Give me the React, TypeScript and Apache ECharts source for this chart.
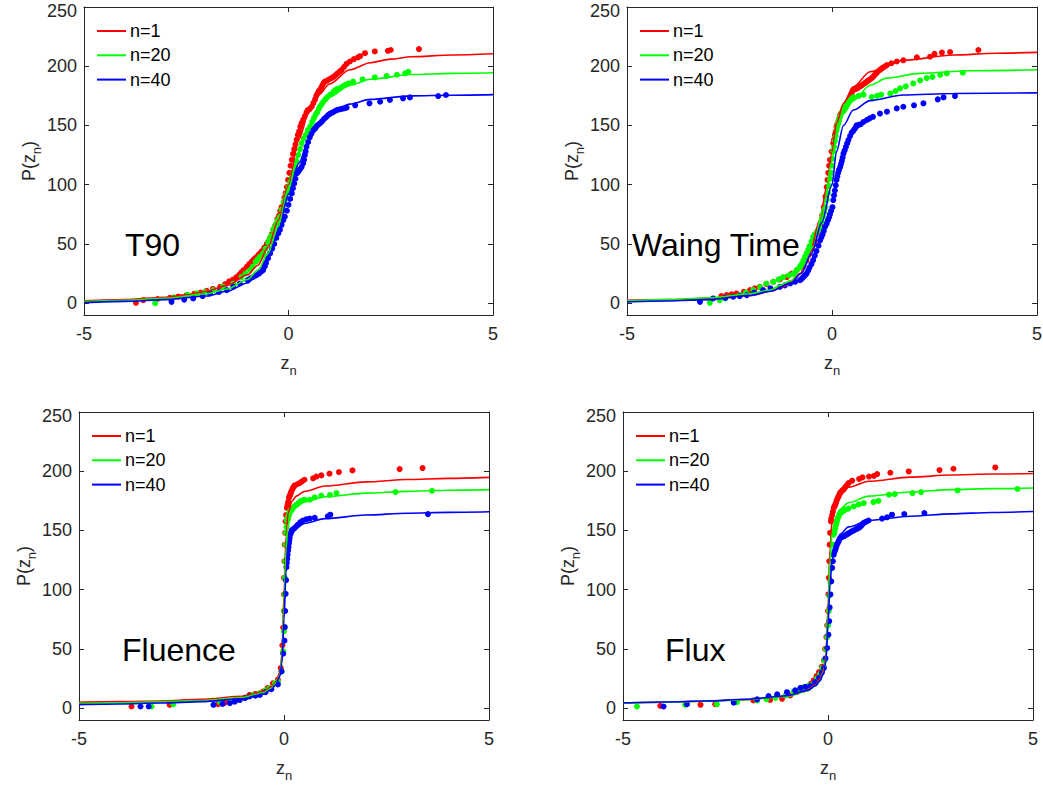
import React, { useEffect, useRef } from "react";
import * as echarts from "echarts";

const FONT = "'Liberation Sans', Arial, Helvetica, sans-serif";
const AXIS_COLOR = "#262626";

const xTicks = [-5, 0, 5];
const yTicks = [0, 50, 100, 150, 200, 250];
const seriesNames = ["n=1", "n=20", "n=40"];
const seriesColors = ["#ff0000", "#00ff00", "#0000ff"];
const panelTitles = ["T90", "Waing Time", "Fluence", "Flux"];

// ---------- T90 ----------
const t90Fit1 = [[-5, 2], [-4, 3], [-3, 5], [-2.5, 7], [-2, 10], [-1.5, 15], [-1, 24], [-0.75, 32], [-0.5, 47], [-0.25, 70], [0, 100], [0.25, 138], [0.5, 161], [0.75, 176], [1, 185], [1.5, 197], [2, 203], [2.5, 206], [3, 208], [4, 209.5], [5, 210.5]];
const t90Fit20 = [[-5, 1.5], [-4, 2.5], [-3, 4], [-2, 8], [-1.5, 12], [-1, 20], [-0.75, 28], [-0.5, 42], [-0.25, 65], [0, 97], [0.25, 127], [0.5, 150], [0.75, 165], [1, 174], [1.5, 184], [2, 189], [3, 193], [4, 194], [5, 194.5]];
const t90Fit40 = [[-5, 0.5], [-4, 1.5], [-3, 3], [-2, 6], [-1.5, 10], [-1, 17], [-0.75, 25], [-0.5, 38], [-0.25, 60], [0, 92], [0.25, 118], [0.5, 138], [0.75, 152], [1, 160], [1.5, 168], [2, 172], [3, 175], [4, 175.5], [5, 176]];
const t90Pts1 = [[-3.73, 0.3], [-3.55, 2.5], [-3.2, 3.5], [-2.9, 4.5], [-2.7, 5.5], [-2.49, 6.8], [-2.3, 8], [-2.15, 9], [-2.0, 10.4], [-1.85, 12], [-1.67, 13.8], [-1.55, 16], [-1.45, 18.5], [-1.35, 20], [-1.27, 22], [-1.2, 24], [-1.15, 26], [-1.1, 28], [-1.02, 30.7], [-0.96, 33], [-0.9, 35], [-0.85, 37], [-0.8, 38.5], [-0.74, 40.5], [-0.7, 42], [-0.65, 44], [-0.59, 47], [-0.53, 50], [-0.49, 52], [-0.45, 55], [-0.41, 58], [-0.37, 62], [-0.33, 65], [-0.3, 67], [-0.27, 71], [-0.23, 74], [-0.2, 78], [-0.17, 81], [-0.1, 89], [-0.07, 93], [-0.04, 98], [-0.01, 104], [0.02, 110], [0.05, 116], [0.08, 121], [0.11, 126], [0.14, 130], [0.17, 134], [0.2, 138], [0.23, 142], [0.26, 145], [0.29, 149], [0.32, 152], [0.36, 155], [0.4, 158], [0.44, 161], [0.47, 163], [0.52, 164], [0.57, 166], [0.61, 169], [0.65, 172], [0.68, 175], [0.71, 177], [0.74, 179], [0.77, 180], [0.8, 182], [0.83, 184], [0.86, 186], [0.89, 187], [0.95, 188], [1.0, 189], [1.05, 190], [1.1, 191], [1.15, 192.5], [1.2, 194], [1.25, 195.5], [1.3, 197], [1.36, 199.5], [1.42, 202], [1.5, 204], [1.6, 206], [1.7, 207.5], [1.75, 208.5], [1.87, 211], [2.11, 212.5], [2.43, 213], [2.5, 213.7], [3.19, 214.5]];
const t90Pts20 = [[-3.26, 0], [-2.8, 5], [-2.47, 7], [-2.24, 8.2], [-2.05, 9.5], [-1.84, 11], [-1.6, 14], [-1.35, 16.6], [-1.15, 22], [-1.05, 25], [-0.94, 28], [-0.87, 31], [-0.8, 35], [-0.75, 37], [-0.7, 39], [-0.66, 40], [-0.62, 42], [-0.56, 46], [-0.5, 51], [-0.46, 54], [-0.42, 57], [-0.37, 62], [-0.34, 64], [-0.3, 67], [-0.26, 70], [-0.21, 73], [-0.17, 79], [-0.12, 85], [-0.08, 88], [-0.05, 92], [-0.02, 95], [0, 98], [0.04, 102], [0.08, 106], [0.12, 110], [0.16, 115], [0.2, 120], [0.24, 125], [0.28, 130], [0.32, 135], [0.37, 139], [0.42, 142], [0.47, 146], [0.53, 149], [0.58, 153], [0.62, 156], [0.66, 159], [0.7, 161], [0.74, 164], [0.77, 166], [0.81, 168], [0.85, 170], [0.9, 172], [0.95, 174], [1.02, 176], [1.1, 178.5], [1.15, 180], [1.2, 181], [1.28, 182], [1.35, 183.5], [1.41, 184.5], [1.47, 185.5], [1.58, 187], [1.81, 189], [2.11, 190.6], [2.4, 191.7], [2.65, 192.8], [2.85, 194], [2.93, 195.3]];
const t90Pts40 = [[-2.86, 1.1], [-2.55, 3], [-2.33, 4], [-2.1, 6], [-1.92, 8.2], [-1.7, 9.5], [-1.51, 11], [-1.35, 14], [-1.19, 16.6], [-1.0, 19.5], [-0.93, 21], [-0.86, 22.2], [-0.79, 23.5], [-0.72, 25], [-0.67, 26.5], [-0.62, 27.9], [-0.58, 31], [-0.55, 34], [-0.5, 38], [-0.45, 42], [-0.4, 46], [-0.35, 50], [-0.3, 55], [-0.25, 58.9], [-0.21, 62], [-0.17, 66], [-0.13, 70], [-0.09, 73], [-0.04, 78], [0, 83], [0.04, 88], [0.08, 92.6], [0.11, 97], [0.14, 101], [0.17, 105], [0.2, 109.5], [0.24, 111], [0.28, 113], [0.32, 115], [0.36, 118], [0.38, 121], [0.4, 125], [0.42, 128], [0.44, 132], [0.48, 136], [0.52, 140], [0.56, 143], [0.61, 146], [0.65, 147.5], [0.68, 149], [0.72, 150.5], [0.77, 151.8], [0.82, 153.5], [0.87, 155.5], [0.92, 157], [0.97, 158.8], [1.02, 160], [1.08, 161], [1.13, 162], [1.18, 163], [1.24, 163.5], [1.3, 164], [1.36, 164.5], [1.42, 165], [1.63, 167], [1.98, 168.7], [2.24, 170], [2.48, 171.5], [2.8, 172.9], [2.97, 173.7], [3.66, 174.8], [3.85, 175.7]];

// ---------- Waiting time ----------
const wtFit1 = [[-5, 2.5], [-4, 3], [-3, 4], [-2, 6.5], [-1.5, 10], [-1.2, 13.8], [-1, 18], [-0.78, 25], [-0.54, 42], [-0.3, 70], [-0.13, 98], [0, 128], [0.11, 152], [0.28, 168.7], [0.52, 182.7], [0.93, 195.4], [1.74, 205], [2.96, 209.5], [4, 211], [5, 211.7]];
const wtFit20 = [[-5, 2], [-4, 3], [-3, 4.5], [-2, 8], [-1.5, 11], [-1.27, 15], [-1, 19], [-0.78, 28], [-0.46, 47.5], [-0.21, 81], [0, 120], [0.11, 143], [0.28, 160], [0.52, 171], [0.93, 184], [1.34, 190], [2.15, 194], [3.37, 196.2], [5, 197]];
const wtFit40 = [[-5, 1.1], [-4, 1.8], [-3, 3], [-2, 6.5], [-1.5, 10], [-1, 17], [-0.75, 25], [-0.5, 42], [-0.25, 68], [0, 100], [0.11, 128], [0.28, 150], [0.52, 163], [0.93, 171], [1.74, 175.7], [2.96, 177], [5, 177.5]];
const wtPts1 = [[-2.7, 6], [-2.57, 6.8], [-2.45, 7.5], [-2.33, 8.2], [-2.15, 9.5], [-2.0, 11], [-1.88, 12.5], [-1.76, 13.8], [-1.6, 16], [-1.43, 18], [-1.27, 20], [-1.1, 22], [-0.98, 25], [-0.86, 28], [-0.7, 31], [-0.62, 36], [-0.56, 41], [-0.5, 46], [-0.46, 49], [-0.42, 52], [-0.37, 59], [-0.33, 62], [-0.29, 66], [-0.24, 74], [-0.2, 81], [-0.16, 90], [-0.13, 98], [-0.11, 104], [-0.09, 110], [-0.07, 116], [-0.05, 121], [-0.01, 128], [0.03, 135], [0.05, 138], [0.07, 142], [0.09, 145], [0.11, 149], [0.13, 151], [0.16, 154], [0.18, 156], [0.2, 159], [0.23, 160.5], [0.26, 162], [0.29, 164], [0.32, 166], [0.35, 168], [0.38, 170], [0.41, 172], [0.44, 174], [0.48, 177], [0.52, 180], [0.56, 180.5], [0.6, 181], [0.64, 182], [0.69, 183], [0.73, 184], [0.77, 185], [0.81, 186], [0.85, 187], [0.89, 188], [0.93, 189], [0.97, 190], [1.0, 191], [1.04, 192.5], [1.08, 194], [1.12, 195.5], [1.17, 197], [1.21, 198], [1.25, 199], [1.3, 200], [1.34, 201], [1.45, 202.5], [1.58, 204], [1.74, 205], [2.07, 207.5], [2.39, 208], [2.5, 210.5], [2.68, 211.5], [2.88, 212], [3.57, 213.7]];
const wtPts20 = [[-2.98, 0.3], [-2.74, 2.5], [-2.6, 4], [-2.41, 5.4], [-2.25, 6.8], [-2.1, 9], [-1.92, 11], [-1.75, 13.5], [-1.6, 16.6], [-1.43, 18], [-1.3, 20], [-1.19, 22], [-1.05, 23.5], [-0.94, 25], [-0.86, 28], [-0.78, 31], [-0.74, 33], [-0.7, 36], [-0.66, 39], [-0.62, 42], [-0.58, 45], [-0.55, 48], [-0.5, 52], [-0.46, 56], [-0.42, 58], [-0.37, 60], [-0.33, 62], [-0.29, 64], [-0.25, 69], [-0.22, 73], [-0.19, 77], [-0.16, 81], [-0.13, 87], [-0.1, 93], [-0.07, 99], [-0.05, 105], [-0.02, 110], [0, 116], [0.01, 122], [0.03, 128], [0.05, 132], [0.07, 137], [0.09, 141], [0.11, 146], [0.13, 149], [0.15, 152], [0.17, 155], [0.2, 158], [0.24, 161], [0.28, 164], [0.32, 166], [0.36, 168], [0.4, 169.5], [0.44, 171], [0.48, 172.5], [0.52, 174], [0.65, 175], [0.77, 176], [0.97, 174], [1.1, 175], [1.2, 176], [1.42, 177], [1.55, 179], [1.66, 181.3], [1.8, 183], [1.98, 185.5], [2.15, 188], [2.31, 190], [2.45, 191], [2.64, 192.6], [2.8, 194], [3.19, 194.5]];
const wtPts40 = [[-3.22, 1.1], [-2.9, 4], [-2.6, 4.5], [-2.41, 5.4], [-2.25, 6], [-2.08, 6.8], [-1.9, 9], [-1.68, 11], [-1.5, 12.5], [-1.27, 13.8], [-1.15, 15], [-1.02, 16.6], [-0.9, 18], [-0.78, 19.4], [-0.74, 20.5], [-0.7, 22], [-0.66, 23.5], [-0.62, 25], [-0.58, 27.5], [-0.55, 30], [-0.5, 33], [-0.46, 36.3], [-0.42, 40], [-0.38, 44], [-0.33, 48.5], [-0.29, 53], [-0.26, 55.5], [-0.23, 58], [-0.2, 61], [-0.17, 64.4], [-0.13, 67], [-0.1, 70], [-0.07, 72.5], [-0.05, 75], [-0.02, 78], [0.01, 81], [0.03, 87], [0.05, 91], [0.07, 95], [0.09, 99.5], [0.11, 104], [0.13, 107], [0.15, 110], [0.17, 112.5], [0.2, 115], [0.22, 117.5], [0.24, 120], [0.26, 123], [0.28, 126.4], [0.31, 129], [0.34, 132], [0.37, 135], [0.4, 137.7], [0.44, 141], [0.48, 144], [0.52, 145.5], [0.55, 147], [0.58, 148.5], [0.6, 150], [0.65, 150.5], [0.7, 151], [0.77, 153], [0.85, 154.6], [0.92, 156], [1.0, 157.3], [1.17, 160], [1.34, 161.6], [1.58, 164.4], [1.74, 165.8], [2.0, 167], [2.23, 168.7], [2.58, 172], [2.72, 173.7], [3.0, 174.8]];

// ---------- Fluence ----------
const flFit1 = [[-5, 5], [-4, 5.5], [-3, 6], [-2, 7.5], [-1, 10], [-0.5, 14], [-0.3, 18], [-0.2, 22], [-0.1, 30], [-0.05, 45], [0, 95], [0.05, 145], [0.1, 165], [0.2, 175], [0.3, 179], [0.5, 183], [1, 187.5], [2, 191], [3, 193], [4, 194], [5, 194.8]];
const flFit20 = [[-5, 4], [-4, 4.5], [-3, 5.3], [-2, 6.5], [-1, 9], [-0.5, 13], [-0.3, 17], [-0.2, 21], [-0.1, 28], [-0.05, 42], [0, 85], [0.05, 135], [0.1, 155], [0.2, 165], [0.3, 170], [0.5, 174], [1, 178.5], [2, 181.5], [3, 183], [4, 184], [5, 184.5]];
const flFit40 = [[-5, 3], [-4, 3.5], [-3, 4.3], [-2, 5.5], [-1, 8], [-0.5, 12], [-0.3, 16], [-0.2, 20], [-0.1, 27], [-0.05, 38], [0, 75], [0.05, 115], [0.1, 135], [0.2, 147], [0.3, 152], [0.5, 156], [1, 160], [2, 163], [3, 164.5], [4, 165.3], [5, 165.8]];
const flPts1 = [[-3.72, 1.4], [-2.79, 2.8], [-1.61, 3.4], [-1.45, 4.5], [-1.32, 5.6], [-1.2, 6.5], [-1.08, 7], [-0.95, 9], [-0.84, 11.2], [-0.7, 12], [-0.51, 14], [-0.4, 17], [-0.27, 21], [-0.15, 24], [-0.08, 33.8], [-0.04, 53], [-0.02, 68], [0, 82], [0, 96], [0, 110], [0.01, 124], [0.02, 138], [0.03, 148], [0.04, 157.7], [0.05, 163], [0.07, 169], [0.085, 171.5], [0.1, 174], [0.12, 177.5], [0.135, 179], [0.15, 180], [0.165, 181.5], [0.18, 183], [0.2, 184.5], [0.22, 186], [0.24, 187], [0.26, 188], [0.32, 189], [0.38, 190], [0.44, 191.5], [0.5, 192.8], [0.71, 194], [0.79, 195.5], [0.91, 196.5], [1.11, 197.9], [1.34, 199.3], [1.67, 200.7], [2.82, 201.8], [3.38, 202.7]];
const flPts20 = [[-3.23, 1.4], [-2.7, 3.4], [-1.56, 5], [-1.3, 6], [-1.08, 7], [-0.9, 9.5], [-0.76, 11.2], [-0.59, 12.7], [-0.45, 15], [-0.35, 17], [-0.22, 21], [-0.15, 22.5], [-0.06, 31], [-0.02, 48], [0, 65], [0, 82], [0.01, 96], [0.02, 110], [0.03, 124], [0.04, 138], [0.05, 148], [0.06, 153], [0.07, 158], [0.085, 160], [0.1, 162], [0.12, 164], [0.14, 166], [0.16, 167], [0.18, 168], [0.22, 169], [0.26, 170.5], [0.3, 171.7], [0.36, 173.5], [0.42, 175], [0.5, 176], [0.63, 176], [0.75, 178], [0.91, 179.5], [1.12, 180], [1.28, 181.6], [2.72, 182.4], [3.61, 183.5]];
const flPts40 = [[-3.5, 1.4], [-3.3, 1.4], [-1.72, 2.8], [-1.5, 3.5], [-1.32, 4.2], [-1.2, 5.5], [-1.08, 7], [-0.95, 8.5], [-0.84, 9.9], [-0.7, 10.5], [-0.59, 11.2], [-0.45, 13.5], [-0.31, 16], [-0.15, 20], [-0.06, 31], [-0.02, 46], [0.01, 57], [0.02, 68.4], [0.03, 82], [0.04, 96.5], [0.05, 108], [0.06, 119], [0.07, 122.5], [0.08, 126], [0.09, 129.5], [0.1, 133], [0.11, 136], [0.12, 139], [0.13, 141.5], [0.14, 144], [0.16, 147], [0.18, 149.7], [0.2, 150.4], [0.22, 151], [0.26, 152], [0.3, 153.5], [0.34, 155], [0.4, 157], [0.46, 158.4], [0.55, 159.5], [0.63, 160], [0.75, 160.7], [1.07, 162], [1.13, 163.3], [3.51, 163.8]];

// ---------- Flux ----------
const fxFit1 = [[-5, 4.2], [-4, 5], [-3, 5.8], [-2, 7.2], [-1, 10], [-0.5, 15], [-0.3, 20], [-0.2, 25], [-0.1, 33], [-0.05, 45], [0, 85], [0.05, 135], [0.1, 158], [0.2, 175], [0.3, 181], [0.5, 186.5], [1, 191.5], [2, 195], [3, 196.8], [4, 197.6], [5, 198.1]];
const fxFit20 = [[-5, 4.4], [-4, 5], [-3, 5.8], [-2, 7.2], [-1, 10], [-0.5, 14.5], [-0.3, 19], [-0.2, 23], [-0.1, 31], [-0.05, 42], [0, 80], [0.05, 125], [0.1, 148], [0.2, 162], [0.3, 168], [0.5, 173.5], [1, 179], [2, 182.5], [3, 184.5], [4, 185.3], [5, 185.8]];
const fxFit40 = [[-5, 4.5], [-4, 5.2], [-3, 6], [-2, 7.5], [-1, 10.5], [-0.5, 15], [-0.3, 19], [-0.2, 23], [-0.1, 30], [-0.05, 40], [0, 70], [0.05, 105], [0.1, 125], [0.2, 140], [0.3, 147], [0.5, 153], [1, 158.5], [2, 162], [3, 164], [4, 165.2], [5, 166]];
const fxPts1 = [[-4.09, 2], [-3.11, 2.8], [-2.75, 3.4], [-1.82, 6.5], [-1.41, 7], [-1.12, 7.9], [-0.92, 10.7], [-0.76, 13.5], [-0.62, 15.5], [-0.51, 17.8], [-0.42, 20.5], [-0.35, 23.4], [-0.28, 27], [-0.22, 30.4], [-0.15, 35], [-0.1, 40.3], [-0.07, 50], [-0.04, 60], [-0.02, 70], [0, 82], [0.01, 96], [0.02, 110], [0.03, 124], [0.04, 138], [0.05, 148], [0.07, 157.7], [0.08, 160], [0.1, 163], [0.12, 166], [0.14, 169], [0.16, 170.5], [0.18, 172], [0.2, 174], [0.22, 176], [0.24, 177.5], [0.26, 179], [0.28, 180.5], [0.3, 182], [0.33, 183], [0.36, 184], [0.39, 185], [0.42, 186.5], [0.46, 188], [0.5, 190], [0.59, 192], [0.76, 193.5], [0.84, 194.8], [1.0, 195.5], [1.12, 196], [1.2, 197.6], [1.52, 198.7], [1.97, 199.8], [2.72, 201], [3.06, 202.1], [4.08, 203.2]];
const fxPts20 = [[-4.66, 1.4], [-3.48, 2.8], [-2.71, 3.4], [-2.22, 5.1], [-1.73, 6.5], [-1.5, 7.5], [-1.28, 8.7], [-1.04, 10.7], [-0.84, 13.5], [-0.7, 15.5], [-0.59, 17.8], [-0.47, 19], [-0.35, 20.6], [-0.27, 25], [-0.19, 29], [-0.14, 34], [-0.09, 40.3], [-0.05, 50], [-0.02, 60], [0, 70], [0.02, 82], [0.03, 95], [0.06, 107], [0.08, 118], [0.1, 129.6], [0.12, 138], [0.14, 146.5], [0.16, 149], [0.18, 152], [0.2, 155], [0.22, 157.7], [0.24, 160], [0.26, 162], [0.28, 163.5], [0.3, 164.8], [0.33, 165.5], [0.36, 166], [0.39, 167], [0.42, 167.5], [0.5, 168.5], [0.63, 170.4], [0.75, 172], [0.87, 173], [1.11, 174], [1.23, 175], [1.49, 180.2], [1.63, 180.7], [2.06, 181.6], [2.27, 182.4], [3.16, 183.8], [4.62, 185]];
const fxPts40 = [[-4.01, 1.4], [-3.44, 3.4], [-2.3, 4.6], [-1.73, 7.4], [-1.45, 10.2], [-1.24, 11.7], [-1.0, 13.5], [-0.8, 15], [-0.67, 17.2], [-0.55, 18], [-0.43, 18.6], [-0.32, 22], [-0.22, 25.6], [-0.15, 30], [-0.1, 34], [-0.06, 42], [-0.02, 50.8], [0.01, 62], [0.03, 73.4], [0.04, 85], [0.06, 96], [0.08, 107], [0.1, 118.4], [0.12, 124], [0.14, 129.6], [0.16, 132], [0.18, 134], [0.2, 136], [0.22, 138.2], [0.24, 139.5], [0.26, 141], [0.28, 142.5], [0.3, 143.8], [0.34, 144.5], [0.38, 145], [0.42, 145.8], [0.46, 146.6], [0.49, 147.3], [0.52, 148], [0.56, 148.7], [0.59, 149.4], [0.63, 150], [0.67, 150.8], [0.71, 151.5], [0.75, 152.2], [0.78, 153], [0.81, 154], [0.84, 155.2], [0.87, 156.4], [0.93, 157.4], [0.99, 158.4], [1.32, 160], [1.44, 161.1], [1.56, 163.3], [1.86, 163.9], [2.35, 164.7]];

const panelFits = [
  [t90Fit1, t90Fit20, t90Fit40],
  [wtFit1, wtFit20, wtFit40],
  [flFit1, flFit20, flFit40],
  [fxFit1, fxFit20, fxFit40],
];
const panelPts = [
  [t90Pts1, t90Pts20, t90Pts40],
  [wtPts1, wtPts20, wtPts40],
  [flPts1, flPts20, flPts40],
  [fxPts1, fxPts20, fxPts40],
];

// layout (pixels)
const grids = [
  { left: 84, top: 7, width: 409, height: 308 },
  { left: 627, top: 7, width: 410, height: 308 },
  { left: 79, top: 412, width: 410, height: 308 },
  { left: 623, top: 412, width: 410, height: 308 },
];
const titlePos = [
  [125, 245],
  [632, 245],
  [122, 650],
  [665, 650],
];

function buildOption() {
  const grid: any[] = [];
  const xAxis: any[] = [];
  const yAxis: any[] = [];
  const legend: any[] = [];
  const series: any[] = [];
  const graphic: any[] = [];
  const lineStyle = { color: AXIS_COLOR, width: 1 };
  const rich = {
    a: { fontSize: 18, fontFamily: FONT, color: AXIS_COLOR },
    b: { fontSize: 13, fontFamily: FONT, color: AXIS_COLOR, padding: [16, 0, 0, 0] },
  };
  const topTick = yTicks[yTicks.length - 1];

  grids.forEach((g, i) => {
    grid.push({ ...g, show: false, containLabel: false, outerBoundsMode: "none" });
    const xBase = {
      type: "value",
      gridIndex: i,
      min: xTicks[0],
      max: xTicks[xTicks.length - 1],
      interval: 5,
      splitLine: { show: false },
      axisLine: { show: true, onZero: false, lineStyle },
      axisTick: { show: true, inside: true, length: 5, lineStyle },
    };
    xAxis.push({
      ...xBase,
      position: "bottom",
      axisLabel: { show: true, color: AXIS_COLOR, fontSize: 18, fontFamily: FONT, margin: 10 },
      name: "{a|z}{b|n}",
      nameLocation: "middle",
      nameGap: 33,
      nameTextStyle: { rich },
    });
    xAxis.push({ ...xBase, position: "top", axisLabel: { show: false } });
    const yBase = {
      type: "value",
      gridIndex: i,
      min: -10,
      max: 250,
      splitLine: { show: false },
      axisLine: { show: true, onZero: false, lineStyle },
      axisTick: { show: true, inside: true, length: 5, lineStyle, customValues: yTicks },
    };
    yAxis.push({
      ...yBase,
      position: "left",
      axisLabel: {
        show: true,
        color: AXIS_COLOR,
        fontSize: 18,
        lineHeight: 14,
        fontFamily: FONT,
        margin: 7,
        customValues: yTicks,
        formatter: (v: number) => (v === topTick ? `{t|${v}}` : `${v}`),
        rich: {
          t: {
            fontSize: 18,
            lineHeight: 14,
            fontFamily: FONT,
            color: AXIS_COLOR,
            padding: [7, 0, 0, 0],
          },
        },
      },
      name: "{a|P(z}{b|n}{a|)}",
      nameLocation: "middle",
      nameGap: 40,
      nameRotate: 90,
      nameTextStyle: { rich },
    });
    yAxis.push({ ...yBase, position: "right", axisLabel: { show: false } });

    legend.push({
      orient: "vertical",
      left: g.left + 13,
      top: g.top + 14,
      icon: "rect",
      itemWidth: 29,
      itemHeight: 2,
      itemGap: 4.3,
      selectedMode: false,
      padding: 0,
      textStyle: { fontSize: 18, fontFamily: FONT, color: "#000", lineHeight: 20, padding: [0, 0, 0, -1] },
      data: seriesNames,
    });

    seriesNames.forEach((nm, k) => {
      series.push({
        type: "scatter",
        name: nm + " data",
        xAxisIndex: 2 * i,
        yAxisIndex: 2 * i,
        data: panelPts[i][k],
        symbol: "circle",
        symbolSize: 6,
        itemStyle: { color: seriesColors[k], opacity: 1 },
        silent: true,
      });
      series.push({
        type: "line",
        name: nm,
        xAxisIndex: 2 * i,
        yAxisIndex: 2 * i,
        data: panelFits[i][k],
        showSymbol: false,
        symbol: "none",
        smooth: 0.3,
        smoothMonotone: "x",
        lineStyle: { color: seriesColors[k], width: 1.6 },
        itemStyle: { color: seriesColors[k] },
        silent: true,
      });
    });

    graphic.push({
      type: "text",
      x: titlePos[i][0],
      y: titlePos[i][1],
      style: {
        text: panelTitles[i],
        fontSize: 32,
        fontFamily: FONT,
        fill: "#000",
        align: "left",
        verticalAlign: "middle",
      },
    });
  });

  return {
    animation: false,
    backgroundColor: "#ffffff",
    grid,
    xAxis,
    yAxis,
    legend,
    series,
    graphic,
  };
}

export default function App() {
  const ref = useRef<HTMLDivElement>(null);
  useEffect(() => {
    if (!ref.current) return;
    const chart = echarts.init(ref.current, null, { renderer: "svg" });
    chart.setOption(buildOption() as any);
    return () => chart.dispose();
  }, []);
  return (
    <div
      ref={ref}
      style={{ position: "fixed", left: 0, top: 0, width: 1043, height: 787, background: "#fff" }}
    />
  );
}
